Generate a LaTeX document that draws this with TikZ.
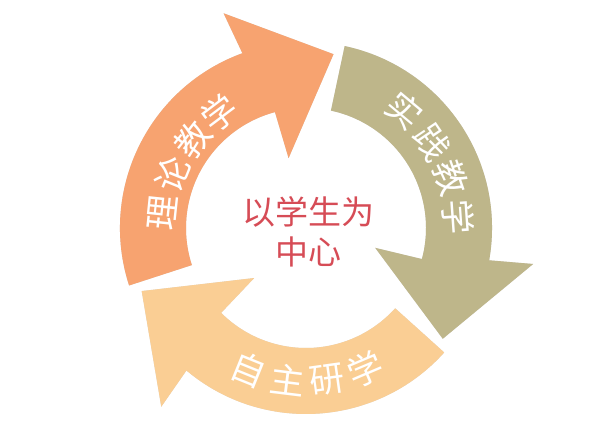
\documentclass[tikz,border=0pt]{standalone}
\usepackage{fontspec}
\newfontfamily\cjk{Noto Sans CJK SC}
\usetikzlibrary{calc}
\definecolor{orA}{RGB}{247,163,112}
\definecolor{olB}{RGB}{190,182,138}
\definecolor{ltC}{RGB}{250,206,148}
\definecolor{redT}{RGB}{214,76,86}
\tikzset{
  archar/.style={text=white, inner sep=0pt, font=\cjk\fontsize{35}{35}\selectfont},
  centertext/.style={text=redT, align=center, inner sep=0pt, font=\cjk\fontsize{33}{40}\selectfont},
  arrowshadow/.style={fill=black, opacity=0.16},
}
\begin{document}
\begin{tikzpicture}[x=1pt,y=1pt]
\useasboundingbox (0,0) rectangle (603,-428);
\coordinate (C) at (306,-228);
% shadows
\foreach \t in {198,78,-42} {
  \begin{scope}[shift={(1.5,-2)}]
  \fill[arrowshadow] ($(C)+(\t:186)$) arc[start angle=\t, end angle=\t-88, radius=186]
    -- ($(C)+(\t-87:230)$) -- ($(C)+(\t-117:176)$) -- ($(C)+(\t-94:72)$)
    -- ($(C)+(\t-93:120)$) arc[start angle=\t-93, end angle=\t, radius=120] -- cycle;
  \end{scope}
}
% arrows
\foreach \t/\col in {198/orA,78/olB,-42/ltC} {
  \fill[\col] ($(C)+(\t:186)$) arc[start angle=\t, end angle=\t-88, radius=186]
    -- ($(C)+(\t-87:230)$) -- ($(C)+(\t-117:176)$) -- ($(C)+(\t-94:72)$)
    -- ($(C)+(\t-93:120)$) arc[start angle=\t-93, end angle=\t, radius=120] -- cycle;
}
% labels on arrows
\foreach \a/\ch [count=\i] in {174/理,158/论,142/教,127/学}
  \node[archar, rotate=\a-90] (o\i) at ($(C)+(\a:144)$) {\ch};
\foreach \a/\ch [count=\i] in {50/实,34/践,19/教,4/学}
  \node[archar, rotate=\a-90] (g\i) at ($(C)+(\a:153)$) {\ch};
\foreach \a/\ch [count=\i] in {-112/自,-97/主,-82/研,-67/学}
  \node[archar, rotate=\a+90] (y\i) at ($(C)+(\a:153)$) {\ch};
% centre
\node[centertext] (center) at (308,-232) {以学生为\\中心};
\end{tikzpicture}
\end{document}
